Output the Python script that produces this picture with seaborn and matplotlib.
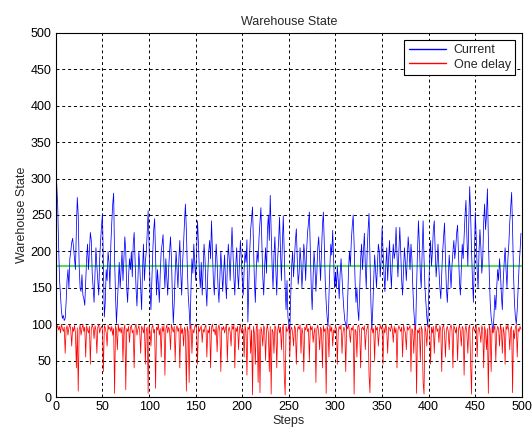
import numpy as np
import pandas as pd
import matplotlib
matplotlib.use("Agg")
import matplotlib.pyplot as plt
import seaborn as sns

# ---- data ----
current = [
    315, 290, 262, 205, 160, 140, 118, 108, 112, 105,
    108, 130, 160, 175, 150, 190, 200, 212, 218, 205,
    190, 175, 230, 274, 250, 180, 150, 145, 168, 140,
    135, 126, 160, 190, 210, 175, 200, 226, 215, 170,
    150, 130, 170, 205, 180, 160, 140, 190, 215, 235,
    252, 180, 110, 130, 175, 160, 200, 185, 150, 210,
    240, 265, 280, 190, 140, 101, 130, 160, 185, 150,
    175, 200, 160, 190, 220, 200, 150, 130, 165, 190,
    175, 200, 165, 210, 226, 190, 150, 125, 160, 200,
    180, 150, 120, 175, 210, 160, 185, 200, 225, 256,
    210, 150, 120, 160, 200, 230, 245, 190, 140, 175,
    155, 130, 170, 200, 210, 223, 180, 150, 190, 165,
    140, 175, 200, 220, 190, 140, 101, 130, 170, 200,
    175, 150, 190, 215, 170, 140, 185, 210, 240, 265,
    230, 180, 140, 120, 94, 150, 190, 170, 210, 185,
    160, 200, 242, 210, 170, 150, 185, 140, 175, 210,
    190, 150, 125, 170, 200, 215, 190, 242, 200, 160,
    140, 180, 210, 185, 150, 130, 165, 200, 175, 145,
    170, 195, 160, 135, 180, 210, 190, 160, 200, 233,
    200, 165, 140, 180, 205, 170, 150, 185, 215, 190,
    160, 140, 175, 200, 185, 216, 103, 150, 200, 230,
    245, 261, 210, 160, 130, 175, 200, 185, 220, 240,
    260, 210, 165, 140, 180, 205, 170, 230, 250, 215,
    277, 230, 180, 150, 195, 220, 175, 140, 190, 215,
    247, 200, 160, 210, 249, 200, 150, 120, 160, 110,
    100, 89, 140, 180, 200, 165, 190, 215, 231, 190,
    155, 170, 205, 185, 150, 175, 210, 195, 160, 200,
    225, 240, 254, 200, 150, 120, 165, 200, 180, 145,
    170, 205, 220, 190, 160, 200, 235, 254, 210, 160,
    130, 110, 97, 140, 180, 210, 195, 229, 190, 150,
    170, 150, 180, 160, 135, 170, 190, 165, 140, 120,
    105, 100, 92, 130, 175, 200, 180, 215, 235, 250,
    210, 160, 130, 150, 120, 105, 150, 190, 210, 175,
    200, 225, 180, 150, 200, 230, 252, 190, 130, 92,
    120, 160, 195, 175, 150, 180, 210, 200, 165, 190,
    233, 200, 170, 145, 180, 205, 160, 190, 215, 175,
    150, 185, 210, 190, 200, 233, 195, 165, 200, 233,
    200, 160, 140, 175, 205, 185, 160, 190, 220, 200,
    175, 210, 190, 150, 120, 100, 92, 150, 200, 242,
    210, 170, 150, 200, 242, 190, 150, 130, 110, 97,
    140, 190, 215, 180, 200, 230, 242, 200, 165, 185,
    210, 175, 150, 135, 170, 200, 220, 239, 190, 150,
    130, 160, 195, 175, 150, 180, 200, 215, 190, 205,
    225, 236, 195, 160, 140, 175, 210, 190, 220, 250,
    270, 220, 180, 240, 289, 250, 200, 160, 130, 190,
    254, 220, 175, 150, 200, 230, 205, 170, 190, 240,
    265, 230, 250, 286, 220, 170, 130, 110, 100, 89,
    110, 140, 120, 150, 175, 160, 190, 170, 140, 120,
    160, 185, 205, 175, 150, 190, 210, 240, 260, 281,
    230, 170, 130, 110, 100, 120, 150, 180, 200, 225,
]

one_delay = [
    5, 95, 98, 92, 97, 88, 100, 94, 90, 96,
    60, 93, 98, 85, 95, 100, 92, 70, 96, 90,
    98, 88, 40, 95, 8, 92, 99, 85, 94, 100,
    90, 96, 55, 98, 92, 88, 97, 45, 93, 99,
    95, 80, 98, 92, 60, 96, 100, 88, 94, 97,
    92, 35, 98, 95, 88, 70, 99, 93, 96, 90,
    97, 85, 94, 5, 98, 92, 65, 100, 90, 95,
    88, 96, 50, 93, 99, 10, 94, 90, 97, 75,
    95, 99, 88, 92, 40, 96, 100, 85, 93, 98,
    90, 60, 97, 94, 88, 99, 45, 92, 96, 5,
    98, 90, 70, 95, 99, 88, 93, 12, 96, 92,
    100, 85, 94, 55, 97, 90, 98, 30, 93, 99,
    88, 96, 92, 65, 100, 94, 89, 97, 50, 93,
    98, 90, 95, 40, 99, 87, 94, 70, 96, 92,
    8, 97, 90, 20, 95, 99, 60, 93, 88, 96,
    100, 92, 45, 97, 90, 94, 98, 75, 93, 89,
    96, 99, 55, 92, 88, 97, 40, 95, 100, 90,
    93, 85, 98, 62, 94, 99, 90, 35, 96, 92,
    97, 88, 94, 100, 50, 92, 96, 89, 70, 98,
    93, 99, 40, 95, 90, 97, 65, 94, 100, 88,
    95, 92, 55, 98, 90, 30, 96, 93, 99, 60,
    92, 3, 97, 88, 45, 95, 100, 20, 93, 6,
    96, 90, 70, 98, 94, 50, 92, 99, 88, 35,
    97, 4, 93, 90, 60, 98, 95, 40, 92, 99,
    88, 96, 65, 94, 100, 30, 3, 97, 90, 93,
    99, 55, 92, 96, 88, 70, 98, 94, 45, 90,
    97, 93, 99, 60, 95, 88, 35, 96, 92, 100,
    90, 94, 50, 98, 92, 97, 75, 89, 95, 20,
    93, 99, 88, 65, 96, 92, 40, 98, 90, 94,
    5, 97, 93, 55, 99, 90, 96, 70, 92, 88,
    98, 94, 45, 90, 97, 93, 99, 60, 88, 96,
    92, 35, 97, 94, 100, 89, 75, 95, 92, 98,
    4, 93, 90, 55, 97, 99, 88, 40, 94, 96,
    92, 98, 65, 90, 95, 99, 30, 6, 93, 97,
    88, 94, 50, 98, 92, 96, 70, 90, 99, 93,
    97, 45, 95, 88, 100, 92, 60, 96, 94, 90,
    99, 93, 75, 97, 88, 95, 40, 92, 98, 94,
    90, 96, 55, 99, 93, 88, 65, 97, 92, 95,
    98, 35, 94, 90, 60, 96, 99, 5, 92, 88,
    95, 50, 97, 93, 20, 4, 98, 90, 70, 94,
    99, 92, 45, 96, 88, 97, 60, 93, 100, 90,
    94, 75, 98, 92, 35, 96, 99, 88, 55, 93,
    97, 90, 65, 95, 99, 92, 40, 98, 94, 88,
    96, 50, 93, 99, 90, 70, 97, 94, 30, 92,
    98, 88, 60, 95, 99, 45, 4, 93, 97, 90,
    94, 99, 55, 92, 96, 88, 75, 98, 93, 40,
    97, 90, 65, 94, 5, 99, 92, 35, 96, 88,
    93, 98, 50, 90, 97, 94, 70, 99, 92, 60,
    96, 88, 45, 98, 93, 99, 90, 65, 94, 97,
    6, 92, 80, 96, 99, 55, 94, 90, 97, 93,
]

target_level = 180
series_names = ["Current", "One delay"]
x_ticks = list(range(0, 501, 50))
y_ticks = list(range(0, 501, 50))

steps = np.arange(len(current))
df = pd.DataFrame({
    "Steps": np.concatenate([steps, steps]),
    "Value": np.concatenate([current, one_delay]),
    "Series": [series_names[0]] * len(current) + [series_names[1]] * len(one_delay),
})

sns.set_style("white")
plt.rcParams["font.family"] = ["Liberation Sans", "DejaVu Sans"]

fig = plt.figure(figsize=(5.32, 4.36), dpi=100)
ax = fig.add_axes([0.105, 0.0894, 0.876, 0.835])

sns.lineplot(data=df, x="Steps", y="Value", hue="Series",
             palette={"Current": "#0000ff", "One delay": "#ff0000"},
             linewidth=0.55, ax=ax, legend=True, estimator=None, sort=False)
ax.axhline(target_level, color="#5ad85a", linewidth=1.5, zorder=1)

ax.set_xlim(0, 500)
ax.set_ylim(0, 500)
ax.set_xticks(x_ticks)
ax.set_yticks(y_ticks)
ax.tick_params(direction="in", length=3, labelsize=9, colors="black", pad=3)
ax.grid(True, color="black", linestyle=(0, (3, 3)), linewidth=0.7)
for s in ax.spines.values():
    s.set_color("black")
    s.set_linewidth(0.8)

ax.set_title("Warehouse State", fontsize=9, pad=6)
ax.set_xlabel("Steps", fontsize=9, labelpad=1)
ax.set_ylabel("Warehouse State", fontsize=9, labelpad=2)

leg = ax.legend(loc="upper right", fontsize=9, frameon=True, fancybox=False,
                edgecolor="black", framealpha=1, borderaxespad=0.55,
                handlelength=3.0, borderpad=0.35, labelspacing=0.2,
                handletextpad=0.6)
leg.get_frame().set_linewidth(0.8)
for line in leg.get_lines():
    line.set_linewidth(1.0)

fig.savefig("out.png", dpi=100)
